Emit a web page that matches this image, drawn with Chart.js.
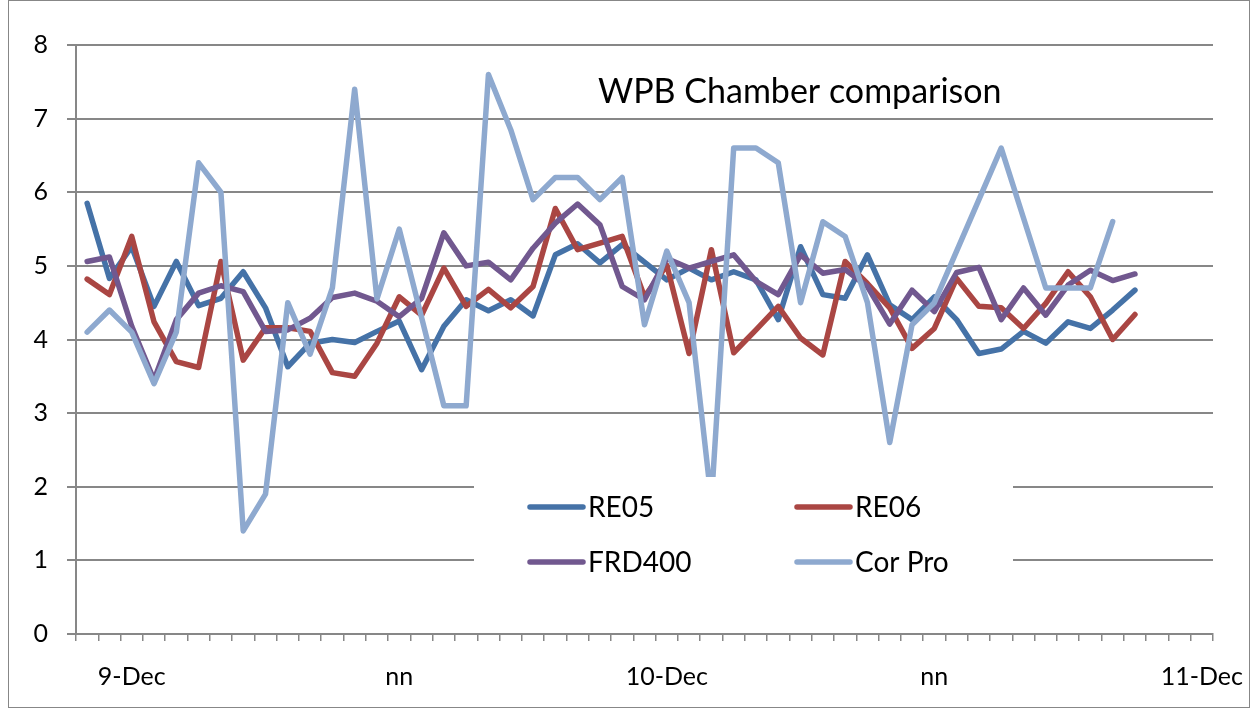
<!DOCTYPE html>
<html lang="en">
<head>
    <meta charset="UTF-8">
    <title>WPB Chamber comparison</title>
    <script src="https://cdn.jsdelivr.net/npm/chart.js"></script>
    <style>
      body { margin: 0; background: #fff; }
      #wrap { width: 1255px; height: 711px; position: relative; }
    </style>
</head>
<body>
    <div id="wrap">
      <canvas id="chamberChart"></canvas>
    </div>

    <script>
      // hourly category labels (only some of them are shown)
      const xLabels = [
        '', '', '9-Dec', '', '', '', '', '', '', '', '', '',
        '', '', 'nn', '', '', '', '', '', '', '', '', '',
        '', '', '10-Dec', '', '', '', '', '', '', '', '', '',
        '', '', 'nn', '', '', '', '', '', '', '', '', '',
        '', '', '11-Dec'
      ];

      const titleText = 'WPB Chamber comparison';
      const seriesNames = ['RE05', 'RE06', 'FRD400', 'Cor Pro'];

      const re05 = [5.85, 4.83, 5.26, 4.45, 5.06, 4.46, 4.56, 4.92, 4.43, 3.63, 3.95, 4.0,
                    3.96, 4.11, 4.25, 3.59, 4.18, 4.54, 4.39, 4.54, 4.32, 5.15, 5.30, 5.04,
                    5.29, 5.05, 4.81, 4.97, 4.81, 4.92, 4.81, 4.27, 5.26, 4.61, 4.56, 5.15,
                    4.47, 4.27, 4.58, 4.27, 3.81, 3.87, 4.11, 3.95, 4.24, 4.15, 4.40, 4.67];

      const re06 = [4.82, 4.61, 5.40, 4.24, 3.70, 3.62, 5.06, 3.72, 4.16, 4.16, 4.11, 3.55,
                    3.50, 3.95, 4.58, 4.33, 4.97, 4.45, 4.68, 4.43, 4.72, 5.78, 5.22, 5.31,
                    5.40, 4.58, 5.01, 3.81, 5.22, 3.82, 4.13, 4.45, 4.02, 3.79, 5.06, 4.76,
                    4.43, 3.88, 4.15, 4.83, 4.45, 4.43, 4.15, 4.49, 4.92, 4.58, 4.00, 4.34];

      const frd400 = [5.06, 5.12, 4.18, 3.45, 4.27, 4.63, 4.73, 4.65, 4.11, 4.13, 4.29, 4.57,
                      4.63, 4.52, 4.31, 4.56, 5.45, 5.00, 5.05, 4.81, 5.24, 5.58, 5.84, 5.56,
                      4.72, 4.54, 5.10, 4.97, 5.06, 5.15, 4.79, 4.61, 5.15, 4.90, 4.95, 4.72,
                      4.21, 4.67, 4.38, 4.91, 4.98, 4.27, 4.70, 4.33, 4.74, 4.94, 4.80, 4.89];

      const corPro = [4.1, 4.4, 4.1, 3.4, 4.1, 6.4, 6.0, 1.4, 1.9, 4.5, 3.8, 4.7,
                      7.4, 4.55, 5.5, 4.3, 3.1, 3.1, 7.6, 6.85, 5.9, 6.2, 6.2, 5.9,
                      6.2, 4.2, 5.2, 4.5, 1.8, 6.6, 6.6, 6.4, 4.5, 5.6, 5.4, 4.5,
                      2.6, 4.2, 4.5, 5.2, 5.9, 6.6, 5.65, 4.7, 4.7, 4.7, 5.6, null];

      const colors = ['#4572a7', '#aa4643', '#71588f', '#8ea9cf'];
      const gridGrey = '#878787';
      const fontFamily = 'Lato, "Open Sans", sans-serif';

      // title drawn inside the plot area, legend is a white box over the lower part
      const overlayPlugin = {
        id: 'overlay',
        beforeDraw(chart) {
          const ctx = chart.ctx;
          ctx.save();
          ctx.strokeStyle = gridGrey;
          ctx.lineWidth = 1;
          ctx.strokeRect(8.5, 0.5, 1241, 707);
          ctx.restore();
        },
        afterDatasetsDraw(chart) {
          const ctx = chart.ctx;
          ctx.save();
          ctx.fillStyle = '#fff';
          ctx.fillRect(474, 477, 539, 122);

          const cols = [530, 797];
          const rows = [507, 562];
          ctx.font = '28px ' + fontFamily;
          ctx.textBaseline = 'middle';
          ctx.lineCap = 'round';
          chart.data.datasets.forEach((ds, i) => {
            const x = cols[i % 2];
            const y = rows[Math.floor(i / 2)];
            ctx.strokeStyle = ds.borderColor;
            ctx.lineWidth = 5.5;
            ctx.beginPath();
            ctx.moveTo(x, y);
            ctx.lineTo(x + 53, y);
            ctx.stroke();
            ctx.fillStyle = '#000';
            ctx.fillText(ds.label, x + 58, y + 1);
          });

          ctx.font = '34px ' + fontFamily;
          ctx.textBaseline = 'alphabetic';
          ctx.fillText(titleText, 598, 103);
          ctx.restore();
        }
      };

      const lineStyle = (i) => ({
        label: seriesNames[i],
        borderColor: colors[i],
        backgroundColor: colors[i],
        borderWidth: 5.5,
        pointRadius: 0,
        tension: 0,
        borderCapStyle: 'round',
        borderJoinStyle: 'round',
        spanGaps: false,
        order: 3 - i
      });

      new Chart(document.getElementById('chamberChart'), {
        type: 'line',
        data: {
          labels: xLabels,
          datasets: [
            { ...lineStyle(0), data: re05 },
            { ...lineStyle(1), data: re06 },
            { ...lineStyle(2), data: frd400 },
            { ...lineStyle(3), data: corPro }
          ]
        },
        options: {
          responsive: true,
          maintainAspectRatio: false,
          animation: false,
          layout: { padding: { left: 0, top: 45, right: 42, bottom: 0 } },
          plugins: {
            legend: { display: false },
            title: { display: false },
            tooltip: { enabled: false }
          },
          scales: {
            x: {
              offset: true,
              grid: {
                offset: true,
                drawOnChartArea: false,
                drawTicks: true,
                tickLength: 7,
                color: gridGrey,
                lineWidth: 1.5
              },
              border: { display: true, color: gridGrey, width: 2 },
              ticks: {
                autoSkip: false,
                maxRotation: 0,
                minRotation: 0,
                padding: 21,
                color: '#000',
                font: { family: fontFamily, size: 25 }
              },
              afterFit(scale) {
                scale.height = 77;
                scale.paddingLeft = 0;
                scale.paddingRight = 0;
              }
            },
            y: {
              min: 0,
              max: 8,
              ticks: {
                stepSize: 1,
                padding: 19,
                color: '#000',
                font: { family: fontFamily, size: 25 }
              },
              grid: {
                color: gridGrey,
                lineWidth: 2,
                tickLength: 9
              },
              border: { display: true, color: gridGrey, width: 2 },
              afterFit(scale) { scale.width = 76; }
            }
          }
        },
        plugins: [overlayPlugin]
      });
    </script>
</body>
</html>
